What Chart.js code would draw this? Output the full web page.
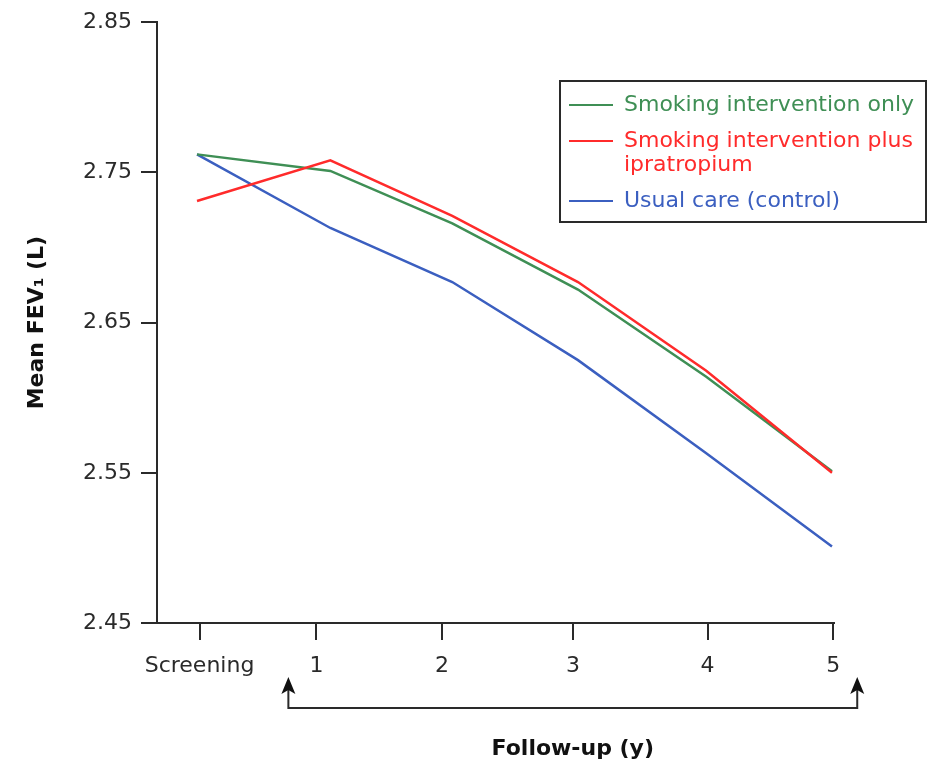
<!DOCTYPE html>
<html><head><meta charset="utf-8">
<script src="https://cdn.jsdelivr.net/npm/chart.js@4/dist/chart.umd.min.js"></script>
<style>html,body{margin:0;padding:0;background:#fff;}#wrap{width:941px;height:765px;position:relative;}</style>
</head><body><div id="wrap"><canvas id="c" width="941" height="765"></canvas></div>
<script>
// ---- data ----
const categories = ["Screening", "1", "2", "3", "4", "5"];
const visitTimes = [0, 1.05, 2.01, 3, 4.01, 5];         // visit times (years of follow-up)
const tickAt = [0.02, 0.94, 1.93, 2.96, 4.02, 5.01];   // where each category tick sits on the x scale
const smokingOnly = [2.762, 2.751, 2.716, 2.672, 2.614, 2.551];
const smokingIpra = [2.731, 2.758, 2.721, 2.677, 2.618, 2.550];
const usualCare   = [2.762, 2.713, 2.677, 2.625, 2.563, 2.501];
const yTicks = [2.45, 2.55, 2.65, 2.75, 2.85];
const seriesNames = ["Smoking intervention only", "Smoking intervention plus\nipratropium", "Usual care (control)"];
const seriesColors = ["#3f8f55", "#ff2b2b", "#3b5fc0"];
const xTitle = "Follow-up (y)";
const yTitle = "Mean FEV\u2081 (L)";

const FONT = "'DejaVu Sans', Verdana, sans-serif";
const AXIS = "#2a2a2a";
Chart.defaults.font.family = FONT;

function pts(arr){ return visitTimes.map((x,i)=>({x:x, y:arr[i]})); }

const extras = {
  id: 'extras',
  afterDraw(chart){
    const ctx = chart.ctx, xs = chart.scales.x, area = chart.chartArea;
    ctx.save();
    // follow-up bracket
    const xL = xs.getPixelForValue(tickAt[1]) - 28;
    const xR = xs.getPixelForValue(tickAt[5]) + 24;
    const yTip = area.bottom + 54, yBar = area.bottom + 85;
    ctx.strokeStyle = AXIS; ctx.fillStyle = "#111"; ctx.lineWidth = 2;
    ctx.beginPath();
    ctx.moveTo(xL, yTip + 12); ctx.lineTo(xL, yBar); ctx.lineTo(xR, yBar); ctx.lineTo(xR, yTip + 12);
    ctx.stroke();
    [xL, xR].forEach(x=>{
      ctx.beginPath();
      ctx.moveTo(x, yTip); ctx.lineTo(x-7, yTip+17); ctx.lineTo(x, yTip+13); ctx.lineTo(x+7, yTip+17);
      ctx.closePath(); ctx.fill();
    });
    // x title centred under the bracket
    ctx.font = "bold 22px " + FONT;
    ctx.textAlign = "center"; ctx.textBaseline = "middle"; ctx.fillStyle = "#111";
    ctx.fillText(xTitle, (xL + xR)/2, area.bottom + 126);
    // legend
    const bx = 560, by = 81, bw = 366, bh = 141;
    ctx.fillStyle = "#fff"; ctx.fillRect(bx, by, bw, bh);
    ctx.strokeStyle = AXIS; ctx.lineWidth = 2; ctx.strokeRect(bx, by, bw, bh);
    ctx.font = "22px " + FONT; ctx.textAlign = "left"; ctx.textBaseline = "middle";
    let y = by + 24;
    seriesNames.forEach((name, i)=>{
      const lines = name.split("\n");
      ctx.strokeStyle = seriesColors[i]; ctx.lineWidth = 2;
      ctx.beginPath(); ctx.moveTo(bx + 9, y); ctx.lineTo(bx + 53, y); ctx.stroke();
      ctx.fillStyle = seriesColors[i];
      lines.forEach((ln, j)=>{ ctx.fillText(ln, bx + 64, y + j*24); });
      y += (lines.length - 1)*24 + 36;
    });
    ctx.restore();
  }
};

new Chart(document.getElementById('c'), {
  type: 'line',
  data: {
    datasets: [
      {label: seriesNames[0], data: pts(smokingOnly), borderColor: seriesColors[0], order: 1},
      {label: seriesNames[1], data: pts(smokingIpra), borderColor: seriesColors[1], order: 0},
      {label: seriesNames[2], data: pts(usualCare),   borderColor: seriesColors[2], order: 2}
    ]
  },
  options: {
    responsive: false, animation: false, devicePixelRatio: 1,
    layout: {padding: {top: 19, right: 107, left: 0, bottom: 0}},
    elements: {line: {borderWidth: 2.5, tension: 0, fill: false}, point: {radius: 0}},
    plugins: {legend: {display: false}, tooltip: {enabled: false}},
    scales: {
      x: {
        type: 'linear', min: -0.315, max: 5.016,
        afterBuildTicks: s => { s.ticks = tickAt.map(v => ({value: v})); },
        afterFit: s => { s.height = 142; },
        ticks: {autoSkip: false, maxRotation: 0, padding: 13, color: AXIS,
                font: {size: 22}, callback: (v, i) => categories[i]},
        grid: {drawOnChartArea: false, drawTicks: true, tickLength: 17, tickColor: AXIS, lineWidth: 2},
        border: {display: true, color: AXIS, width: 2}
      },
      y: {
        type: 'linear', min: 2.45, max: 2.85,
        afterBuildTicks: s => { s.ticks = yTicks.map(v => ({value: v})); },
        afterFit: s => { s.width = 157; },
        ticks: {padding: 9, color: AXIS, font: {size: 22}, callback: v => v.toFixed(2)},
        grid: {drawOnChartArea: false, drawTicks: true, tickLength: 16, tickColor: AXIS, lineWidth: 2},
        border: {display: true, color: AXIS, width: 2},
        title: {display: true, text: yTitle, color: "#111", font: {size: 22, weight: 'bold'}, padding: {top: 24}}
      }
    }
  },
  plugins: [extras]
});
</script></body></html>
